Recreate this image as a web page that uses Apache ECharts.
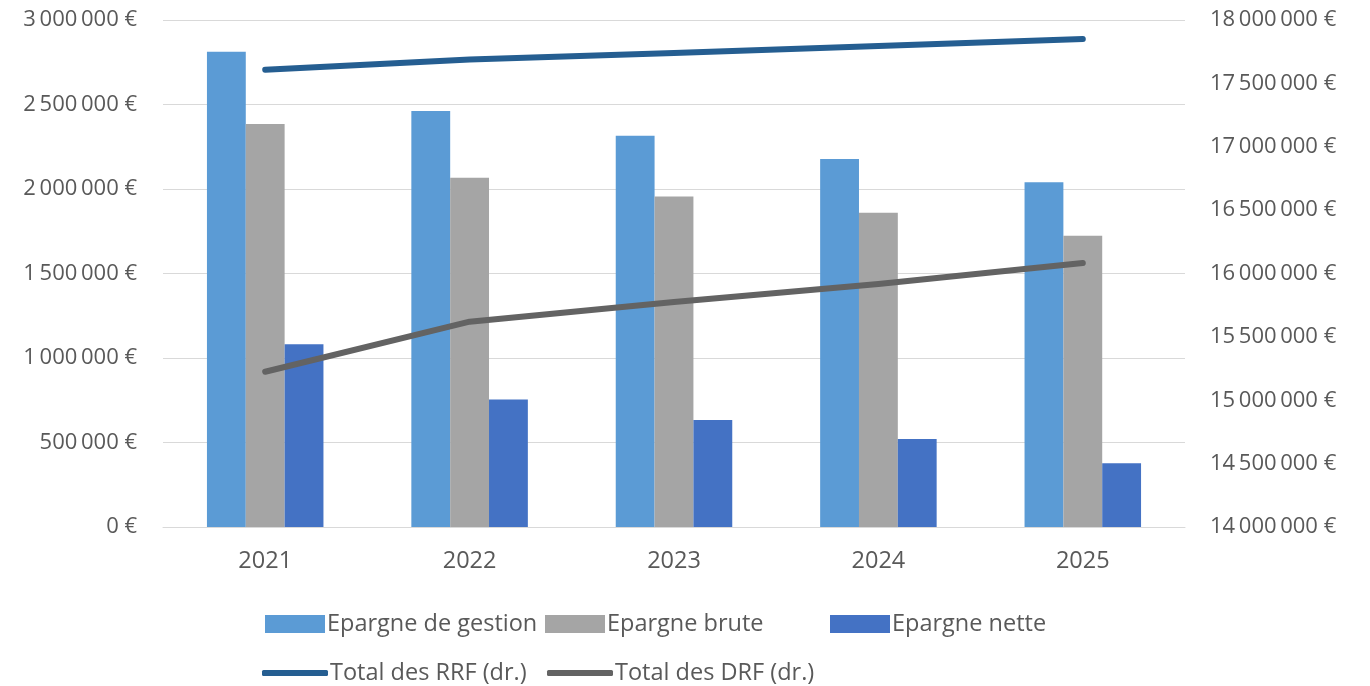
<!DOCTYPE html>
<html><head><meta charset="utf-8">
<script src="https://cdn.jsdelivr.net/npm/echarts@6/dist/echarts.min.js"></script>
<style>html,body{margin:0;padding:0;background:#fff}#c{width:1370px;height:686px}</style>
</head><body><div id="c"></div>
<script>
const categories = ['2021','2022','2023','2024','2025'];
const epargneGestion = [2812000, 2461000, 2315000, 2177000, 2040000];
const epargneBrute = [2385000, 2067000, 1955000, 1860000, 1723000];
const epargneNette = [1081000, 755000, 633000, 521000, 377000];
const totalRRF = [17608000, 17688000, 17740000, 17795000, 17850000];
const totalDRF = [15225000, 15620000, 15775000, 15917000, 16083000];
const names = ['Epargne de gestion','Epargne brute','Epargne nette','Total des RRF (dr.)','Total des DRF (dr.)'];

const FONT = 'Open Sans';
const TXT = '#595959';
function fmt(v){
  return String(Math.round(v)).replace(/\B(?=(\d{3})+(?!\d))/g, '\u2009') + ' €';
}
const chart = echarts.init(document.getElementById('c'), null, {renderer:'canvas'});
function leg(name, left, top, isLine){
  return {
    data:[name], left:left, top:top, orient:'horizontal',
    icon: isLine ? 'roundRect' : 'rect',
    itemWidth: isLine ? 66 : 60, itemHeight: isLine ? 6 : 18,
    itemGap: 0, padding:0,
    textStyle:{color:TXT, fontSize:23.5, fontFamily:FONT, padding:[0,0,0,-3]}
  };
}
chart.setOption({
  animation:false,
  textStyle:{fontFamily:FONT},
  grid:{left:163, right:185, top:20, bottom:159},
  legend:[
    leg(names[0], 265, 612, false),
    leg(names[1], 545, 612, false),
    leg(names[2], 830, 612, false),
    leg(names[3], 262, 661, true),
    leg(names[4], 547, 661, true)
  ],
  xAxis:{
    type:'category', data:categories,
    axisLine:{show:true, lineStyle:{color:'#d9d9d9', width:1}},
    axisTick:{show:false},
    axisLabel:{color:TXT, fontSize:23.5, fontFamily:FONT, margin:22}
  },
  yAxis:[
    {type:'value', min:0, max:3000000, interval:500000, position:'left',
     axisLine:{show:false}, axisTick:{show:false},
     splitLine:{show:true, lineStyle:{color:'#d9d9d9', width:1}},
     axisLabel:{color:TXT, fontSize:22, fontFamily:FONT, margin:26, formatter:fmt}},
    {type:'value', min:14000000, max:18000000, interval:500000, position:'right',
     axisLine:{show:false}, axisTick:{show:false}, splitLine:{show:false},
     axisLabel:{color:TXT, fontSize:22, fontFamily:FONT, margin:25, formatter:fmt}}
  ],
  series:[
    {name:names[0], type:'bar', data:epargneGestion, barGap:'0%', barCategoryGap:'43%',
     itemStyle:{color:'#5b9bd5'}},
    {name:names[1], type:'bar', data:epargneBrute, itemStyle:{color:'#a5a5a5'}},
    {name:names[2], type:'bar', data:epargneNette, itemStyle:{color:'#4472c4'}},
    {name:names[3], type:'line', yAxisIndex:1, data:totalRRF, symbol:'none',
     lineStyle:{color:'#255e91', width:6, cap:'round', join:'round'}, itemStyle:{color:'#255e91'}},
    {name:names[4], type:'line', yAxisIndex:1, data:totalDRF, symbol:'none',
     lineStyle:{color:'#636363', width:6, cap:'round', join:'round'}, itemStyle:{color:'#636363'}}
  ]
});
</script></body></html>
